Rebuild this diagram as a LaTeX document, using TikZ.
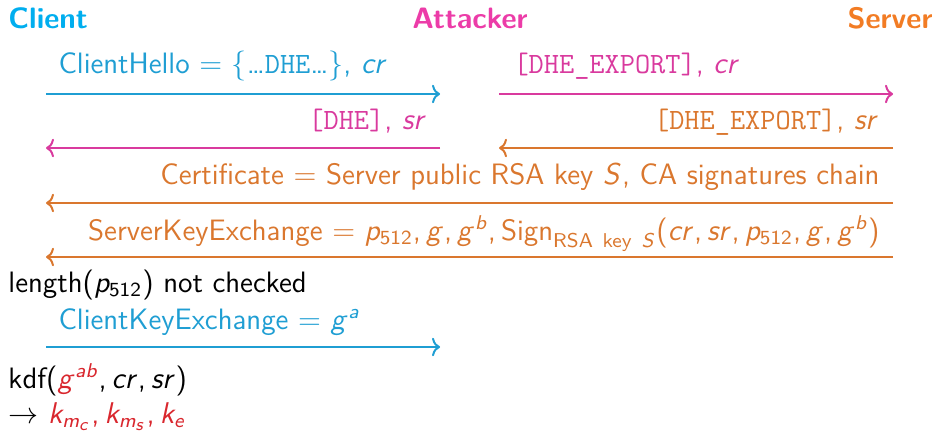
\documentclass[tikz,border=0pt]{standalone}
\usetikzlibrary{arrows.meta}

% sans-serif math, as on a beamer slide
\DeclareSymbolFont{sfops}{OT1}{cmss}{m}{n}
\DeclareSymbolFont{sfit}{OT1}{cmss}{m}{sl}
\DeclareMathSymbol{a}{\mathalpha}{sfit}{`a}
\DeclareMathSymbol{b}{\mathalpha}{sfit}{`b}
\DeclareMathSymbol{c}{\mathalpha}{sfit}{`c}
\DeclareMathSymbol{e}{\mathalpha}{sfit}{`e}
\DeclareMathSymbol{g}{\mathalpha}{sfit}{`g}
\DeclareMathSymbol{k}{\mathalpha}{sfit}{`k}
\DeclareMathSymbol{m}{\mathalpha}{sfit}{`m}
\DeclareMathSymbol{p}{\mathalpha}{sfit}{`p}
\DeclareMathSymbol{r}{\mathalpha}{sfit}{`r}
\DeclareMathSymbol{s}{\mathalpha}{sfit}{`s}
\DeclareMathSymbol{S}{\mathalpha}{sfit}{`S}
\DeclareMathSymbol{0}{\mathalpha}{sfops}{`0}
\DeclareMathSymbol{1}{\mathalpha}{sfops}{`1}
\DeclareMathSymbol{2}{\mathalpha}{sfops}{`2}
\DeclareMathSymbol{5}{\mathalpha}{sfops}{`5}
\DeclareMathSymbol{(}{\mathopen}{sfops}{`(}
\DeclareMathSymbol{)}{\mathclose}{sfops}{`)}
\DeclareMathSymbol{,}{\mathpunct}{sfops}{`,}
\DeclareMathSizes{11.8}{11.8}{8.4}{6.6}

\definecolor{clientT}{HTML}{00AEEF}
\definecolor{attackT}{HTML}{EC3CA8}
\definecolor{serverT}{HTML}{F27C24}
\definecolor{clientC}{HTML}{1F9ED3}
\definecolor{attackC}{HTML}{D93A9E}
\definecolor{serverC}{HTML}{DA772E}
\definecolor{keyred}{HTML}{D9272E}

\begin{document}
\begin{tikzpicture}[x=0.4pt,y=-0.4pt,
  every node/.style={inner sep=0pt,font=\sffamily\fontsize{11.8}{14}\selectfont},
  title/.style={font=\sffamily\bfseries\fontsize{11.8}{14}\selectfont},
  msg/.style={line width=0.8pt,-{To[length=3.2pt,width=7.4pt]}},
  lbl/.style={anchor=base west},
  rlbl/.style={anchor=base east}]
\useasboundingbox (0,0) rectangle (937,432);

% parties
\node[title,anchor=base west,text=clientT] (client) at (8,29) {Client};
\node[title,anchor=base,text=attackT] (attacker) at (470,29) {Attacker};
\node[title,anchor=base east,text=serverT] (server) at (933,29) {Server};

% message end points
\coordinate (c1) at (46,94);   \coordinate (a1) at (440,94);
\coordinate (a2) at (499,94);  \coordinate (s2) at (893,94);
\coordinate (c3) at (46,148);  \coordinate (a3) at (440,148);
\coordinate (a4) at (499,148); \coordinate (s4) at (893,148);
\coordinate (c5) at (46,203);  \coordinate (s5) at (893,203);
\coordinate (c6) at (46,257);  \coordinate (s6) at (893,257);
\coordinate (c7) at (46,347);  \coordinate (a7) at (440,347);

% hello messages
\draw[msg,clientC] (c1) -- (a1);
\node[lbl,text=clientC] (m1) at (58,74)
  {ClientHello $=$ $\{$\ldots\texttt{DHE}\ldots$\}$, $cr$};
\draw[msg,attackC] (a2) -- (s2);
\node[lbl,text=attackC] (m2) at (513,74) {\texttt{[DHE\_EXPORT]}, $cr$};
\draw[msg,attackC] (a3) -- (c3);
\node[rlbl,text=attackC] (m3) at (427,130) {\texttt{[DHE]}, $sr$};
\draw[msg,serverC] (s4) -- (a4);
\node[rlbl,text=serverC] (m4) at (879,130) {\texttt{[DHE\_EXPORT]}, $sr$};

% server certificate and key exchange
\draw[msg,serverC] (s5) -- (c5);
\node[rlbl,text=serverC] (m5) at (880,185)
  {Certificate $=$ Server public RSA key $S$, CA signatures chain};
\draw[msg,serverC] (s6) -- (c6);
\node[rlbl,text=serverC] (m6) at (880,240)
  {ServerKeyExchange $=$ $p_{512}, g, g^{b}, \mbox{Sign}_{\mathsf{RSA\ key}\ S}(cr, sr, p_{512}, g, g^{b})$};

\node[lbl] (chk) at (8,292) {length$(p_{512})$ not checked};

% client key exchange
\draw[msg,clientC] (c7) -- (a7);
\node[lbl,text=clientC] (m7) at (58,329) {ClientKeyExchange $=$ $g^{a}$};

% key derivation
\node[lbl] (kdf) at (8,388) {kdf$($\textcolor{keyred}{$g^{ab}$}$, cr, sr)$};
\node[lbl] (keys) at (8,423)
  {$\rightarrow$ \textcolor{keyred}{$k_{m_c}, k_{m_s}, k_e$}};
\end{tikzpicture}
\end{document}
